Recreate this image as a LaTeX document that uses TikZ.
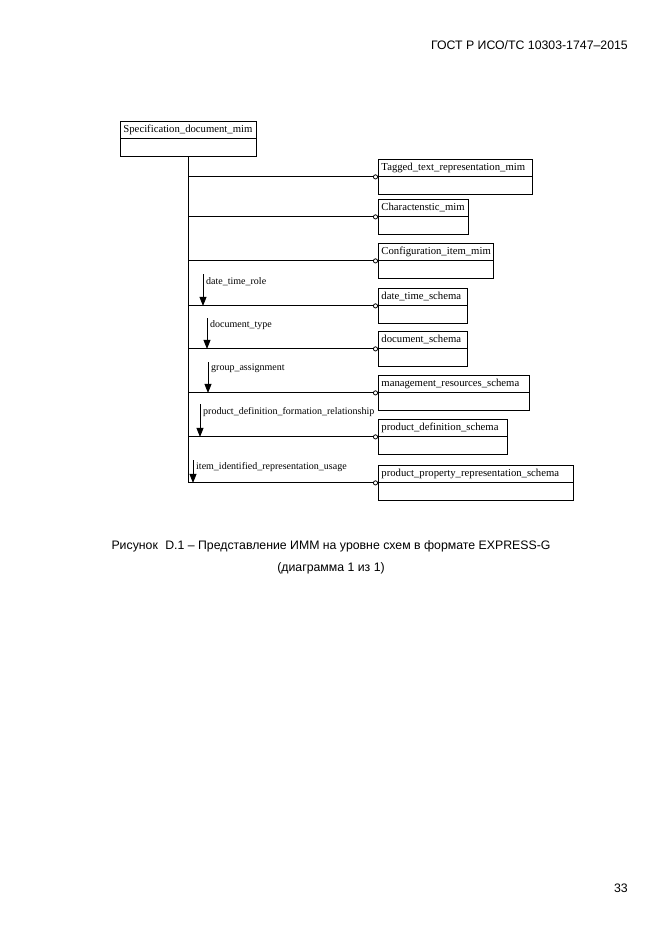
\documentclass[tikz,border=0pt]{standalone}
\usepackage{fontspec}
\setmainfont{Liberation Serif}
\newfontfamily\capfont{Liberation Sans}
\usetikzlibrary{arrows.meta}
\tikzset{
  hdr/.style={draw, line width=0.9pt, anchor=north west, inner xsep=3pt, inner ysep=0pt,
    minimum height=17pt, align=left, font=\fontsize{10.7}{12}\selectfont},
  bodybox/.style={anchor=north west, inner sep=0pt, minimum height=17pt},
  bodyline/.style={line width=0.9pt},
  link/.style={line width=0.9pt, -{Circle[open,length=5pt,width=5pt,line width=0.8pt]}},
  trunk/.style={line width=0.9pt},
  rel/.style={line width=0.9pt, -{Triangle[length=9pt,width=7pt]}},
  rlabel/.style={anchor=west, inner sep=0pt, font=\fontsize{10}{11}\selectfont},
  capt/.style={font=\capfont\fontsize{12.3}{14}\selectfont, inner sep=0pt}
}
\newcommand{\eboxx}[5]{%
  \node[hdr, minimum width=#4, text width=#4-6pt] (#1t) at (#2,#3) {#5};
  \node[bodybox, minimum width=#4] (#1b) at (#1t.south west) {};
  \draw[bodyline] (#1b.north west) -- (#1b.south west) -- (#1b.south east) -- (#1b.north east);
}
\begin{document}
\begin{tikzpicture}[x=1pt,y=-1pt]
\useasboundingbox (0,0) rectangle (661,935);
% header
\node[capt, anchor=east] (hdrtxt) at (628,45) {ГОСТ Р ИСО/ТС 10303-1747–2015};
% top box
\eboxx{spec}{120}{121}{136pt}{Specification\_document\_mim}
% boxes
\eboxx{tag}{378}{159}{154pt}{Tagged\_text\_representation\_mim}
\eboxx{chr}{378}{199}{90pt}{Charactenstic\_mim}
\eboxx{cfg}{378}{243}{115pt}{Configuration\_item\_mim}
\eboxx{dts}{378}{288}{89pt}{date\_time\_schema}
\eboxx{doc}{378}{331}{89pt}{document\_schema}
\eboxx{mgt}{378}{375}{151pt}{management\_resources\_schema}
\eboxx{pds}{378}{419}{129pt}{product\_definition\_schema}
\eboxx{pps}{378}{465}{195pt}{product\_property\_representation\_schema}
% trunk
\coordinate (trtop) at (specb.south -| 188,0);
\coordinate (trbot) at (188,482);
\draw[trunk] (trtop) -- (trbot);
% links
\foreach \b in {tag,chr,cfg,dts,doc,mgt,pds,pps}{
  \draw[link] (\b t.south west -| trtop) -- (\b t.south west);
}
% relationship labels and arrows
\coordinate (a1) at (203,274);
\draw[rel] (a1) -- (a1 |- dtst.south west);
\node[rlabel] (l1) at (206,282) {date\_time\_role};
\coordinate (a2) at (207,318);
\draw[rel] (a2) -- (a2 |- doct.south west);
\node[rlabel] (l2) at (210,325) {document\_type};
\coordinate (a3) at (208,362);
\draw[rel] (a3) -- (a3 |- mgtt.south west);
\node[rlabel] (l3) at (211,368) {group\_assignment};
\coordinate (a4) at (200,404);
\draw[rel] (a4) -- (a4 |- pdst.south west);
\node[rlabel] (l4) at (203,412) {product\_definition\_formation\_relationship};
\coordinate (a5) at (193,460);
\draw[rel] (a5) -- (a5 |- ppst.south west);
\node[rlabel] (l5) at (196,467) {item\_identified\_representation\_usage};
% caption
\node[capt] (cap1) at (331,546) {Рисунок\hspace{0.6em}D.1 – Представление ИММ на уровне схем в формате EXPRESS-G};
\node[capt] (cap2) at (331,568) {(диаграмма 1 из 1)};
\node[capt, anchor=east] (pg) at (628,888) {33};
\end{tikzpicture}
\end{document}
